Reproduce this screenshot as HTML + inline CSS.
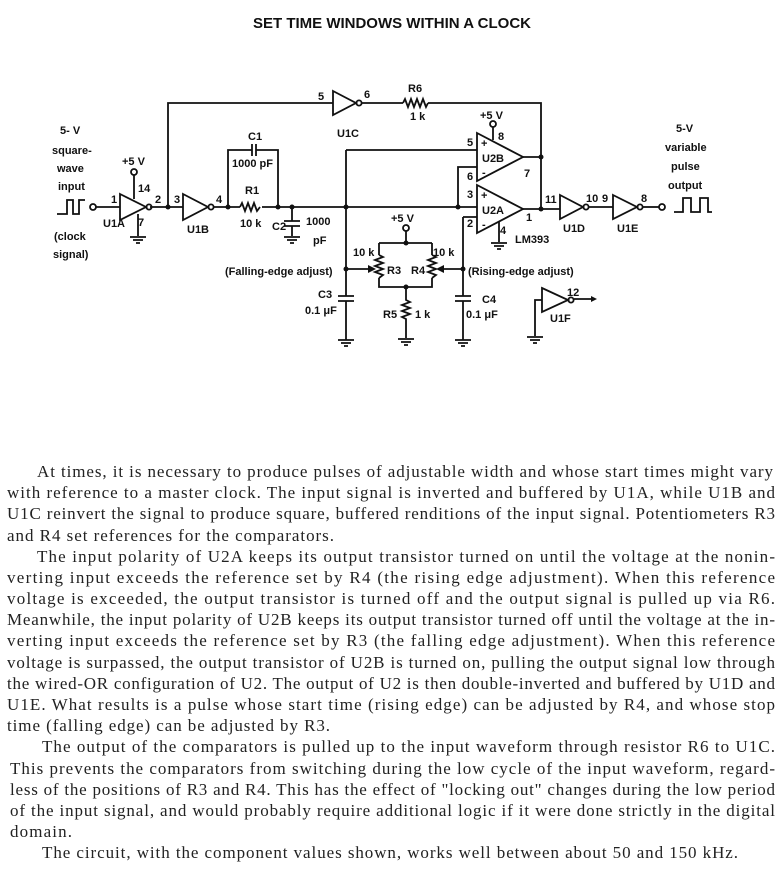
<!DOCTYPE html>
<html><head><meta charset="utf-8"><style>
html,body{margin:0;padding:0;background:#fff;}
svg{display:block}
.l{font-family:"Liberation Sans",sans-serif;font-weight:bold;font-size:11px;fill:#111}
.t{font-family:"Liberation Serif",serif;font-size:17px;fill:#222}
</style></head><body>
<svg width="784" height="869" viewBox="0 0 784 869" xmlns="http://www.w3.org/2000/svg">
<rect width="784" height="869" fill="#fff"/>
<text x="392" y="28" text-anchor="middle" font-family="Liberation Sans,sans-serif" font-weight="bold" font-size="15" fill="#111">SET TIME WINDOWS WITHIN A CLOCK</text>
<g stroke="#111" stroke-width="1.8" fill="none">
<path d="M96 207H120M150 207H183M214 207H240M262 207H477"/>
<path d="M120 194L146 207L120 220Z"/><circle cx="149" cy="207" r="2.6"/>
<circle cx="93" cy="207" r="3"/>
<path d="M134 175V199M138 214V236M130 237H146M133 240H143M136 243H140"/><circle cx="134" cy="172" r="3"/>
<path d="M183 194L208 207L183 220Z"/><circle cx="211" cy="207" r="2.6"/>
<path d="M168 207V103H333M333 91L356 103L333 115ZM362 103H403M428 103H541V208"/><circle cx="359" cy="103" r="2.6"/>
<path d="M403 103l2-4 3 8 3-8 3 8 3-8 3 8 3-8 3 8 2-4"/>
<path d="M240 207l2-4 3 8 3-8 3 8 3-8 3 8 3-4"/>
<path d="M228 207V150H252M256 150H278V207M252 144V156M256 144V156"/>
<path d="M292 207V221M284 221H300M284 226H300M292 226V236M284 237H300M287 240H297M290 243H294"/>
<path d="M346 150H477M346 150V296M338 296H354M338 301H354M346 301V340M338 340H354M341 343H351M344 346H348"/>
<path d="M477 133L523 157L477 181Z"/><path d="M523 157H541"/>
<path d="M493 127V140"/><circle cx="493" cy="124" r="3"/>
<path d="M458 207V167H477"/>
<path d="M477 185L523 209L477 233Z"/><path d="M523 209H560"/>
<path d="M463 217H477M463 217V296M455 296H471M455 301H471M463 301V340M455 340H471M458 343H468M461 346H465"/>
<path d="M499 222V242M491 243H507M494 246H504M497 249H501"/>
<path d="M560 195L583 207L560 219Z"/><circle cx="586" cy="207" r="2.6"/>
<path d="M589 207H613M613 195L637 207L613 219Z"/><circle cx="640" cy="207" r="2.6"/>
<path d="M643 207H659"/><circle cx="662" cy="207" r="3"/>
<path d="M674 212H683V198H691V212H700V198H708V212H712"/>
<path d="M93 214H103V200H109V214H115V200H121" transform="translate(-36 0)"/>
<path d="M406 231V243M379 243H432M379 243V255M379 278V287H432V278M432 243V255"/>
<circle cx="406" cy="228" r="3"/>
<path d="M379 255l4 2-8 3 8 3-8 3 8 3-8 3 8 3-4 3"/>
<path d="M432 255l4 2-8 3 8 3-8 3 8 3-8 3 8 3-4 3"/>
<path d="M346 269H370M463 269H441"/>
<path d="M406 287V300l4 2-8 3 8 3-8 3 8 3-8 3 4 2V338M398 339H414M401 342H411M404 345H408"/>
<path d="M542 288L568 300L542 312Z"/><circle cx="571" cy="300" r="2.6"/>
<path d="M574 299H592M542 300H535V336M527 337H543M530 340H540M533 343H537"/>
</g>
<g fill="#111">
<circle cx="168" cy="207" r="2.5"/><circle cx="228" cy="207" r="2.5"/><circle cx="278" cy="207" r="2.5"/><circle cx="292" cy="207" r="2.5"/>
<circle cx="346" cy="207" r="2.5"/><circle cx="458" cy="207" r="2.5"/><circle cx="541" cy="157" r="2.5"/><circle cx="541" cy="209" r="2.5"/>
<circle cx="406" cy="243" r="2.5"/><circle cx="406" cy="287" r="2.5"/><circle cx="346" cy="269" r="2.5"/><circle cx="463" cy="269" r="2.5"/>
<path d="M376 269l-8-4v8z"/><path d="M436 269l8-4v8z"/><path d="M597 299l-6-3v6z"/>
</g>
<g class="l">
<text x="60" y="134">5- V</text><text x="52" y="154">square-</text><text x="57" y="172">wave</text><text x="58" y="190">input</text>
<text x="54" y="240">(clock</text><text x="53" y="258">signal)</text>
<text x="122" y="165">+5 V</text><text x="138" y="192">14</text><text x="138" y="226">7</text><text x="111" y="203">1</text><text x="103" y="227">U1A</text>
<text x="155" y="203">2</text><text x="174" y="203">3</text><text x="216" y="203">4</text><text x="187" y="233">U1B</text>
<text x="248" y="140">C1</text><text x="232" y="167">1000 pF</text><text x="245" y="194">R1</text><text x="240" y="227">10 k</text><text x="272" y="230">C2</text>
<text x="306" y="225">1000</text><text x="313" y="244">pF</text>
<text x="225" y="275">(Falling-edge adjust)</text>
<text x="318" y="298">C3</text><text x="305" y="314">0.1 μF</text>
<text x="318" y="100">5</text><text x="364" y="98">6</text><text x="337" y="137">U1C</text>
<text x="408" y="92">R6</text><text x="410" y="120">1 k</text>
<text x="480" y="119">+5 V</text><text x="498" y="140">8</text>
<text x="467" y="146">5</text><text x="481" y="147">+</text><text x="482" y="162">U2B</text><text x="482" y="176">-</text><text x="467" y="180">6</text><text x="524" y="177">7</text>
<text x="467" y="198">3</text><text x="481" y="199">+</text><text x="482" y="214">U2A</text><text x="482" y="228">-</text><text x="467" y="227">2</text><text x="500" y="234">4</text><text x="526" y="221">1</text>
<text x="515" y="243">LM393</text>
<text x="391" y="222">+5 V</text><text x="353" y="256">10 k</text><text x="433" y="256">10 k</text>
<text x="387" y="274">R3</text><text x="411" y="274">R4</text>
<text x="468" y="275">(Rising-edge adjust)</text>
<text x="383" y="318">R5</text><text x="415" y="318">1 k</text>
<text x="482" y="303">C4</text><text x="466" y="318">0.1 μF</text>
<text x="545" y="203">11</text><text x="586" y="202">10</text><text x="602" y="202">9</text><text x="641" y="202">8</text>
<text x="563" y="232">U1D</text><text x="617" y="232">U1E</text>
<text x="567" y="296">12</text><text x="550" y="322">U1F</text>
<text x="676" y="132">5-V</text><text x="665" y="151">variable</text><text x="671" y="170">pulse</text><text x="668" y="189">output</text>
</g>
<g class="t">
<text x="37" y="477" textLength="736">At times, it is necessary to produce pulses of adjustable width and whose start times might vary</text>
<text x="7" y="498" textLength="768">with reference to a master clock. The input signal is inverted and buffered by U1A, while U1B and</text>
<text x="7" y="519" textLength="768">U1C reinvert the signal to produce square, buffered renditions of the input signal. Potentiometers R3</text>
<text x="7" y="541" textLength="327">and R4 set references for the comparators.</text>
<text x="37" y="562" textLength="738">The input polarity of U2A keeps its output transistor turned on until the voltage at the nonin-</text>
<text x="7" y="583" textLength="768">verting input exceeds the reference set by R4 (the rising edge adjustment). When this reference</text>
<text x="7" y="604" textLength="768">voltage is exceeded, the output transistor is turned off and the output signal is pulled up via R6.</text>
<text x="7" y="625" textLength="768">Meanwhile, the input polarity of U2B keeps its output transistor turned off until the voltage at the in-</text>
<text x="7" y="646" textLength="768">verting input exceeds the reference set by R3 (the falling edge adjustment). When this reference</text>
<text x="7" y="668" textLength="768">voltage is surpassed, the output transistor of U2B is turned on, pulling the output signal low through</text>
<text x="7" y="689" textLength="768">the wired-OR configuration of U2. The output of U2 is then double-inverted and buffered by U1D and</text>
<text x="7" y="710" textLength="768">U1E. What results is a pulse whose start time (rising edge) can be adjusted by R4, and whose stop</text>
<text x="7" y="731" textLength="323">time (falling edge) can be adjusted by R3.</text>
<text x="42" y="752" textLength="733">The output of the comparators is pulled up to the input waveform through resistor R6 to U1C.</text>
<text x="10" y="774" textLength="765">This prevents the comparators from switching during the low cycle of the input waveform, regard-</text>
<text x="10" y="795" textLength="765">less of the positions of R3 and R4. This has the effect of "locking out" changes during the low period</text>
<text x="10" y="816" textLength="765">of the input signal, and would probably require additional logic if it were done strictly in the digital</text>
<text x="10" y="837" textLength="62">domain.</text>
<text x="42" y="858" textLength="696">The circuit, with the component values shown, works well between about 50 and 150 kHz.</text>
</g>
</svg>
</body></html>
